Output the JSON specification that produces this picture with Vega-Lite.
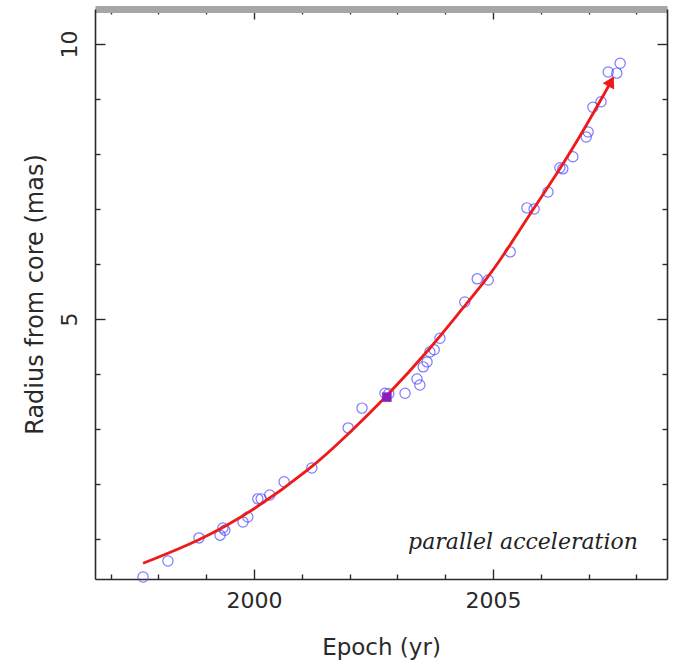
{
  "$schema": "https://vega.github.io/schema/vega-lite/v6.json",
  "width": 572,
  "height": 570,
  "autosize": {"type": "none"},
  "padding": {"left": 95, "top": 9, "right": 6, "bottom": 84},
  "background": "white",
  "config": {
    "view": {"stroke": null},
    "axis": {
      "grid": false,
      "domainColor": "#2a2a2a",
      "domainWidth": 1.6,
      "tickColor": "#2a2a2a",
      "tickWidth": 1.4,
      "labelFont": "DejaVu Sans",
      "labelFontSize": 22,
      "labelColor": "#2a2a2a",
      "labelOverlap": false,
      "labelFlush": false,
      "titleFont": "DejaVu Sans",
      "titleFontSize": 23,
      "titleFontWeight": "normal",
      "titleColor": "#2a2a2a"
    }
  },
  "datasets": {
    "pts": [
      {"yr": 1997.68, "r": 0.31}, {"yr": 1998.20, "r": 0.60}, {"yr": 1998.85, "r": 1.02},
      {"yr": 1999.29, "r": 1.07}, {"yr": 1999.35, "r": 1.20}, {"yr": 1999.39, "r": 1.16},
      {"yr": 1999.77, "r": 1.31}, {"yr": 1999.87, "r": 1.40}, {"yr": 2000.08, "r": 1.73},
      {"yr": 2000.15, "r": 1.73}, {"yr": 2000.33, "r": 1.80}, {"yr": 2000.63, "r": 2.04},
      {"yr": 2001.21, "r": 2.29}, {"yr": 2001.97, "r": 3.02}, {"yr": 2002.26, "r": 3.38},
      {"yr": 2002.74, "r": 3.65}, {"yr": 2002.82, "r": 3.64}, {"yr": 2003.16, "r": 3.65},
      {"yr": 2003.47, "r": 3.80}, {"yr": 2003.41, "r": 3.91}, {"yr": 2003.54, "r": 4.13},
      {"yr": 2003.62, "r": 4.22}, {"yr": 2003.68, "r": 4.40}, {"yr": 2003.77, "r": 4.44},
      {"yr": 2003.89, "r": 4.65}, {"yr": 2004.41, "r": 5.31}, {"yr": 2004.67, "r": 5.73},
      {"yr": 2004.90, "r": 5.71}, {"yr": 2005.36, "r": 6.22}, {"yr": 2005.71, "r": 7.02},
      {"yr": 2005.86, "r": 7.00}, {"yr": 2006.15, "r": 7.31}, {"yr": 2006.40, "r": 7.75},
      {"yr": 2006.46, "r": 7.73}, {"yr": 2006.67, "r": 7.95}, {"yr": 2006.95, "r": 8.31},
      {"yr": 2006.99, "r": 8.40}, {"yr": 2007.09, "r": 8.85}, {"yr": 2007.26, "r": 8.95},
      {"yr": 2007.41, "r": 9.49}, {"yr": 2007.66, "r": 9.65}, {"yr": 2007.59, "r": 9.47}
    ],
    "fit": [
      {"yr": 1997.68, "r": 0.56}, {"yr": 1998.87, "r": 0.97}, {"yr": 1999.98, "r": 1.51},
      {"yr": 2001.21, "r": 2.29}, {"yr": 2001.95, "r": 2.89}, {"yr": 2002.74, "r": 3.56},
      {"yr": 2003.68, "r": 4.45}, {"yr": 2004.37, "r": 5.20}, {"yr": 2004.90, "r": 5.76},
      {"yr": 2005.29, "r": 6.25}, {"yr": 2005.84, "r": 7.00}, {"yr": 2006.46, "r": 7.80},
      {"yr": 2007.03, "r": 8.63}, {"yr": 2007.51, "r": 9.38}
    ],
    "mid": [{"yr": 2002.78, "r": 3.58}],
    "tip": [{"yr": 2007.47, "r": 9.32}],
    "note": [{"yr": 2008.03, "r": 0.82, "text": "parallel acceleration"}]
  },
  "layer": [
    {
      "data": {"name": "pts"},
      "mark": {"type": "point", "shape": "circle", "filled": false, "color": "#4545ff", "strokeWidth": 1.2, "size": 105},
      "encoding": {
        "x": {
          "field": "yr", "type": "quantitative",
          "scale": {"domain": [1996.674, 2008.64], "nice": false, "zero": false},
          "axis": {
            "orient": "bottom",
            "values": [1997, 1998, 1999, 2000, 2001, 2002, 2003, 2004, 2005, 2006, 2007, 2008],
            "format": "d",
            "tickSize": {"condition": {"test": "datum.value % 5 === 0", "value": -10}, "value": -5},
            "labelExpr": "datum.value % 5 === 0 ? datum.label : ''",
            "labelPadding": 21,
            "title": "Epoch (yr)",
            "titlePadding": 20
          }
        },
        "y": {
          "field": "r", "type": "quantitative",
          "scale": {"domain": [0.273, 10.636], "nice": false, "zero": false},
          "axis": {
            "orient": "left",
            "values": [1, 2, 3, 4, 5, 6, 7, 8, 9, 10],
            "format": "d",
            "tickSize": {"condition": {"test": "datum.value % 5 === 0", "value": -10}, "value": -5},
            "labelExpr": "datum.value % 5 === 0 ? datum.label : ''",
            "labelAngle": 270,
            "labelPadding": 24,
            "title": "Radius from core (mas)",
            "titleFontSize": 24,
            "titlePadding": 6
          }
        }
      }
    },
    {
      "data": {"name": "fit"},
      "mark": {"type": "line", "color": "#ee1a1a", "strokeWidth": 2.8, "interpolate": "basis"},
      "encoding": {
        "x": {
          "field": "yr", "type": "quantitative",
          "axis": {
            "orient": "top",
            "values": [1997, 1998, 1999, 2000, 2001, 2002, 2003, 2004, 2005, 2006, 2007, 2008],
            "tickSize": {"condition": {"test": "datum.value % 5 === 0", "value": -10}, "value": -5},
            "labels": false,
            "title": null,
            "domainColor": "#a6a6a6",
            "domainWidth": 7
          }
        },
        "y": {
          "field": "r", "type": "quantitative",
          "axis": {
            "orient": "right",
            "values": [1, 2, 3, 4, 5, 6, 7, 8, 9, 10],
            "tickSize": {"condition": {"test": "datum.value % 5 === 0", "value": -10}, "value": -5},
            "labels": false,
            "title": null
          }
        }
      }
    },
    {
      "data": {"name": "tip"},
      "mark": {"type": "point", "shape": "triangle-up", "filled": true, "color": "#ee1a1a", "size": 170, "angle": 28, "opacity": 1},
      "encoding": {
        "x": {"field": "yr", "type": "quantitative", "axis": null},
        "y": {"field": "r", "type": "quantitative", "axis": null}
      }
    },
    {
      "data": {"name": "mid"},
      "mark": {"type": "point", "shape": "square", "filled": true, "color": "#8a1fc0", "size": 90, "opacity": 1},
      "encoding": {
        "x": {"field": "yr", "type": "quantitative", "axis": null},
        "y": {"field": "r", "type": "quantitative", "axis": null}
      }
    },
    {
      "data": {"name": "note"},
      "mark": {"type": "text", "align": "right", "baseline": "alphabetic", "font": "DejaVu Serif", "fontStyle": "italic", "fontSize": 22, "color": "#222222"},
      "encoding": {
        "x": {"field": "yr", "type": "quantitative", "axis": null},
        "y": {"field": "r", "type": "quantitative", "axis": null},
        "text": {"field": "text"}
      }
    }
  ],
  "resolve": {"axis": {"x": "independent", "y": "independent"}}
}
